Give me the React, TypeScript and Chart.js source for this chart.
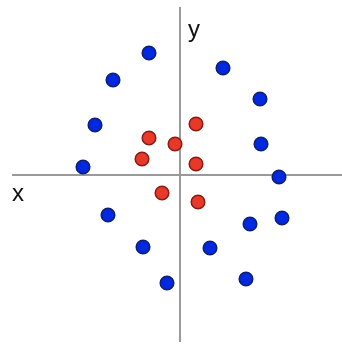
import React, { useEffect, useRef } from "react";
import { Chart, registerables } from "chart.js";

Chart.register(...registerables);

const blueX = [-3.1, -6.7, 4.3, 8.0, -8.5, 8.1, -9.7, 9.9, -7.2, 10.2, 7.0, -3.7, 3.0, -1.3, 6.6];
const blueY = [12.2, 9.5, 10.7, 7.6, 5.0, 3.1, 0.8, -0.2, -4.0, -4.3, -4.9, -7.2, -7.3, -10.8, -10.4];
const redX = [1.6, -3.1, -0.5, -3.8, 1.6, -1.8, 1.8];
const redY = [5.1, 3.7, 3.1, 1.6, 1.1, -1.8, -2.7];
const axisLabels = ["x", "y"];

const axesPlugin = {
  id: "crossAxes",
  beforeDatasetsDraw(chart: any) {
    const { ctx, chartArea, scales } = chart;
    const x0 = scales.x.getPixelForValue(0);
    const y0 = scales.y.getPixelForValue(0);
    ctx.save();
    ctx.strokeStyle = "#9a9a9a";
    ctx.lineWidth = 2;
    ctx.beginPath();
    ctx.moveTo(chartArea.left, y0);
    ctx.lineTo(chartArea.right, y0);
    ctx.moveTo(x0, chartArea.top);
    ctx.lineTo(x0, chartArea.bottom);
    ctx.stroke();
    ctx.fillStyle = "#111";
    ctx.font = "24px 'Liberation Sans', Arial, sans-serif";
    ctx.textBaseline = "alphabetic";
    ctx.textAlign = "left";
    ctx.fillText(axisLabels[0], chartArea.left, y0 + 26);
    ctx.fillText(axisLabels[1], x0 + 8, chartArea.top + 30);
    ctx.restore();
  },
};

export default function App() {
  const ref = useRef<HTMLCanvasElement | null>(null);
  useEffect(() => {
    if (!ref.current) return;
    const chart = new Chart(ref.current, {
      type: "scatter",
      data: {
        datasets: [
          {
            data: blueX.map((x, i) => ({ x, y: blueY[i] })),
            backgroundColor: "#0028e0",
            borderColor: "#0f2070",
            borderWidth: 1.5,
            pointRadius: 6.8,
          },
          {
            data: redX.map((x, i) => ({ x, y: redY[i] })),
            backgroundColor: "#e8382a",
            borderColor: "#8a1c12",
            borderWidth: 1.5,
            pointRadius: 6.8,
          },
        ],
      },
      options: {
        animation: false,
        responsive: false,
        layout: { autoPadding: false, padding: { left: 12, top: 7, right: 0, bottom: 2 } },
        plugins: { legend: { display: false }, tooltip: { enabled: false } },
        scales: {
          x: { type: "linear", display: false, min: -16.8, max: 16.2 },
          y: { type: "linear", display: false, min: -16.7, max: 16.8 },
        },
      },
      plugins: [axesPlugin],
    });
    return () => chart.destroy();
  }, []);
  return (
    <div style={{ position: "fixed", left: 0, top: 0, width: 342, height: 344, background: "#fff" }}>
      <canvas ref={ref} width={342} height={344} style={{ width: 342, height: 344 }} />
    </div>
  );
}
